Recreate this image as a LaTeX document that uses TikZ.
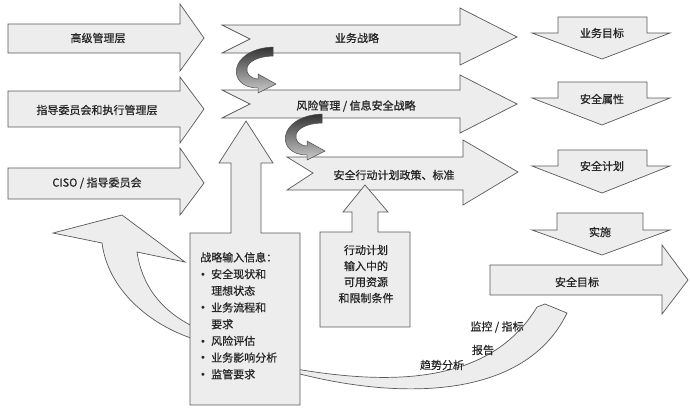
\documentclass[tikz,border=0pt]{standalone}
\usepackage{fontspec}
\newfontfamily\cjk{Noto Sans CJK SC}[FakeBold=0.6]
\newfontfamily\dvs{DejaVu Sans}
\newcommand\bul{\makebox[11pt][l]{\dvs\fontsize{10}{10}\selectfont •}}
\begin{document}
\begin{tikzpicture}[x=1pt,y=-1pt,
  shp/.style={draw=black!65, fill=black!7, line width=0.7pt, line join=miter},
  lbl/.style={font=\cjk\fontsize{11}{13}\selectfont, inner sep=0pt, text=black!85},
  curl/.style={draw=black!70, line width=0.5pt, top color=black!80, bottom color=black!20}
]
\useasboundingbox (0,0) rectangle (690,408);

% big cycle arrow (left part with head)
\draw[shp] (53,233) -- (122,215) -- (185,262) -- (137,252)
  .. controls (142,285) and (160,310) .. (194,327) -- (194,339)
  .. controls (150,325) and (108,290) .. (102,243) -- cycle;
% big cycle arrow (bottom band)
\draw[shp] (296,369) .. controls (390,385) and (490,385) .. (537,307)
  -- (545,304) -- (567,313) .. controls (525,400) and (400,400) .. (296,373) -- cycle;

% left arrows
\draw[shp] (8,24) -- (180,24) -- (180,4) -- (204,38) -- (180,71) -- (180,53) -- (8,53) -- cycle;
\draw[shp] (8,91) -- (180,91) -- (180,77) -- (204,109) -- (180,143) -- (180,127) -- (8,127) -- cycle;
\draw[shp] (8,168) -- (180,168) -- (180,148) -- (204,183) -- (180,215) -- (180,199) -- (8,199) -- cycle;
\node[lbl] (gj) at (98,38) {高级管理层};
\node[lbl] (zd) at (97,110) {指导委员会和执行管理层};
\node[lbl] (ciso) at (97,183) {CISO / 指导委员会};

% middle arrows
\draw[shp] (222,25) -- (460,25) -- (460,8) -- (517,37) -- (460,65) -- (460,53) -- (222,53) -- (250,39) -- cycle;
\draw[shp] (222,90) -- (460,90) -- (460,75) -- (517,104) -- (460,133) -- (460,118) -- (222,118) -- (250,104) -- cycle;
\draw[shp] (287,157) -- (463,157) -- (463,140) -- (518,172) -- (463,205) -- (463,190) -- (287,190) -- (313,173) -- cycle;
\node[lbl] (ywzl) at (357,38) {业务战略};
\node[lbl] (fxgl) at (356,106) {风险管理 / 信息安全战略};
\node[lbl] (aqxd) at (394,175) {安全行动计划政策、标准};

% big up arrow with box
\draw[shp] (190,233) -- (231,233) -- (231,163) -- (219,163) -- (246,121) -- (273,163)
  -- (261,163) -- (261,233) -- (300,233) -- (300,405) -- (190,405) -- cycle;
\node[lbl, text width=98pt, anchor=north west]
  (zlsr) at (200,252) {\raggedright\fontsize{11}{16.7}\selectfont 战略输入信息：\newline
  \bul 安全现状和\newline \hspace*{11pt}理想状态\newline
  \bul 业务流程和\newline \hspace*{11pt}要求\newline
  \bul 风险评估\newline
  \bul 业务影响分析\newline
  \bul 监管要求\par};

% small up arrow with box
\draw[shp] (320,232) -- (352,232) -- (352,212) -- (343,212) -- (365,185) -- (388,212)
  -- (378,212) -- (378,232) -- (410,232) -- (410,327) -- (320,327) -- cycle;
\node[lbl, font=\cjk\fontsize{11}{16}\selectfont, align=center]
  (xdjh) at (366,274) {行动计划\\输入中的\\可用资源\\和限制条件};

% right down arrows
\draw[shp] (558,17) -- (647,17) -- (647,33) -- (670,33) -- (602,59) -- (532,33) -- (558,33) -- cycle;
\draw[shp] (558,82) -- (647,82) -- (647,98) -- (670,98) -- (602,125) -- (532,98) -- (558,98) -- cycle;
\draw[shp] (558,150) -- (647,150) -- (647,166) -- (670,166) -- (602,193) -- (532,166) -- (558,166) -- cycle;
\draw[shp] (557,213) -- (643,213) -- (643,230) -- (670,230) -- (602,255) -- (532,230) -- (557,230) -- cycle;
\node[lbl] (ywmb) at (602,33) {业务目标};
\node[lbl] (aqsx) at (602,99) {安全属性};
\node[lbl] (aqjh) at (602,166) {安全计划};
\node[lbl] (ss) at (600,232) {实施};

% security goal arrow
\draw[shp] (490,265) -- (662,265) -- (662,245) -- (688,280) -- (662,314) -- (662,295) -- (490,295) -- cycle;
\node[lbl] (aqmb) at (577,282) {安全目标};

% labels on bottom band
\node[lbl] (jk) at (497,327) {监控 / 指标};
\node[lbl] (bg) at (483,350) {报告};
\node[lbl] (qs) at (442,365) {趋势分析};

% small curled arrows
\draw[curl] (273,47) .. controls (228,49) and (226,88) .. (258,88) -- (258,93) -- (276,84)
  -- (258,74) -- (258,79) .. controls (242,78) and (240,57) .. (273,56) -- cycle;
\begin{scope}[shift={(49,67)}]
\draw[curl] (273,47) .. controls (228,49) and (226,88) .. (258,88) -- (258,93) -- (276,84)
  -- (258,74) -- (258,79) .. controls (242,78) and (240,57) .. (273,56) -- cycle;
\end{scope}
\end{tikzpicture}
\end{document}
